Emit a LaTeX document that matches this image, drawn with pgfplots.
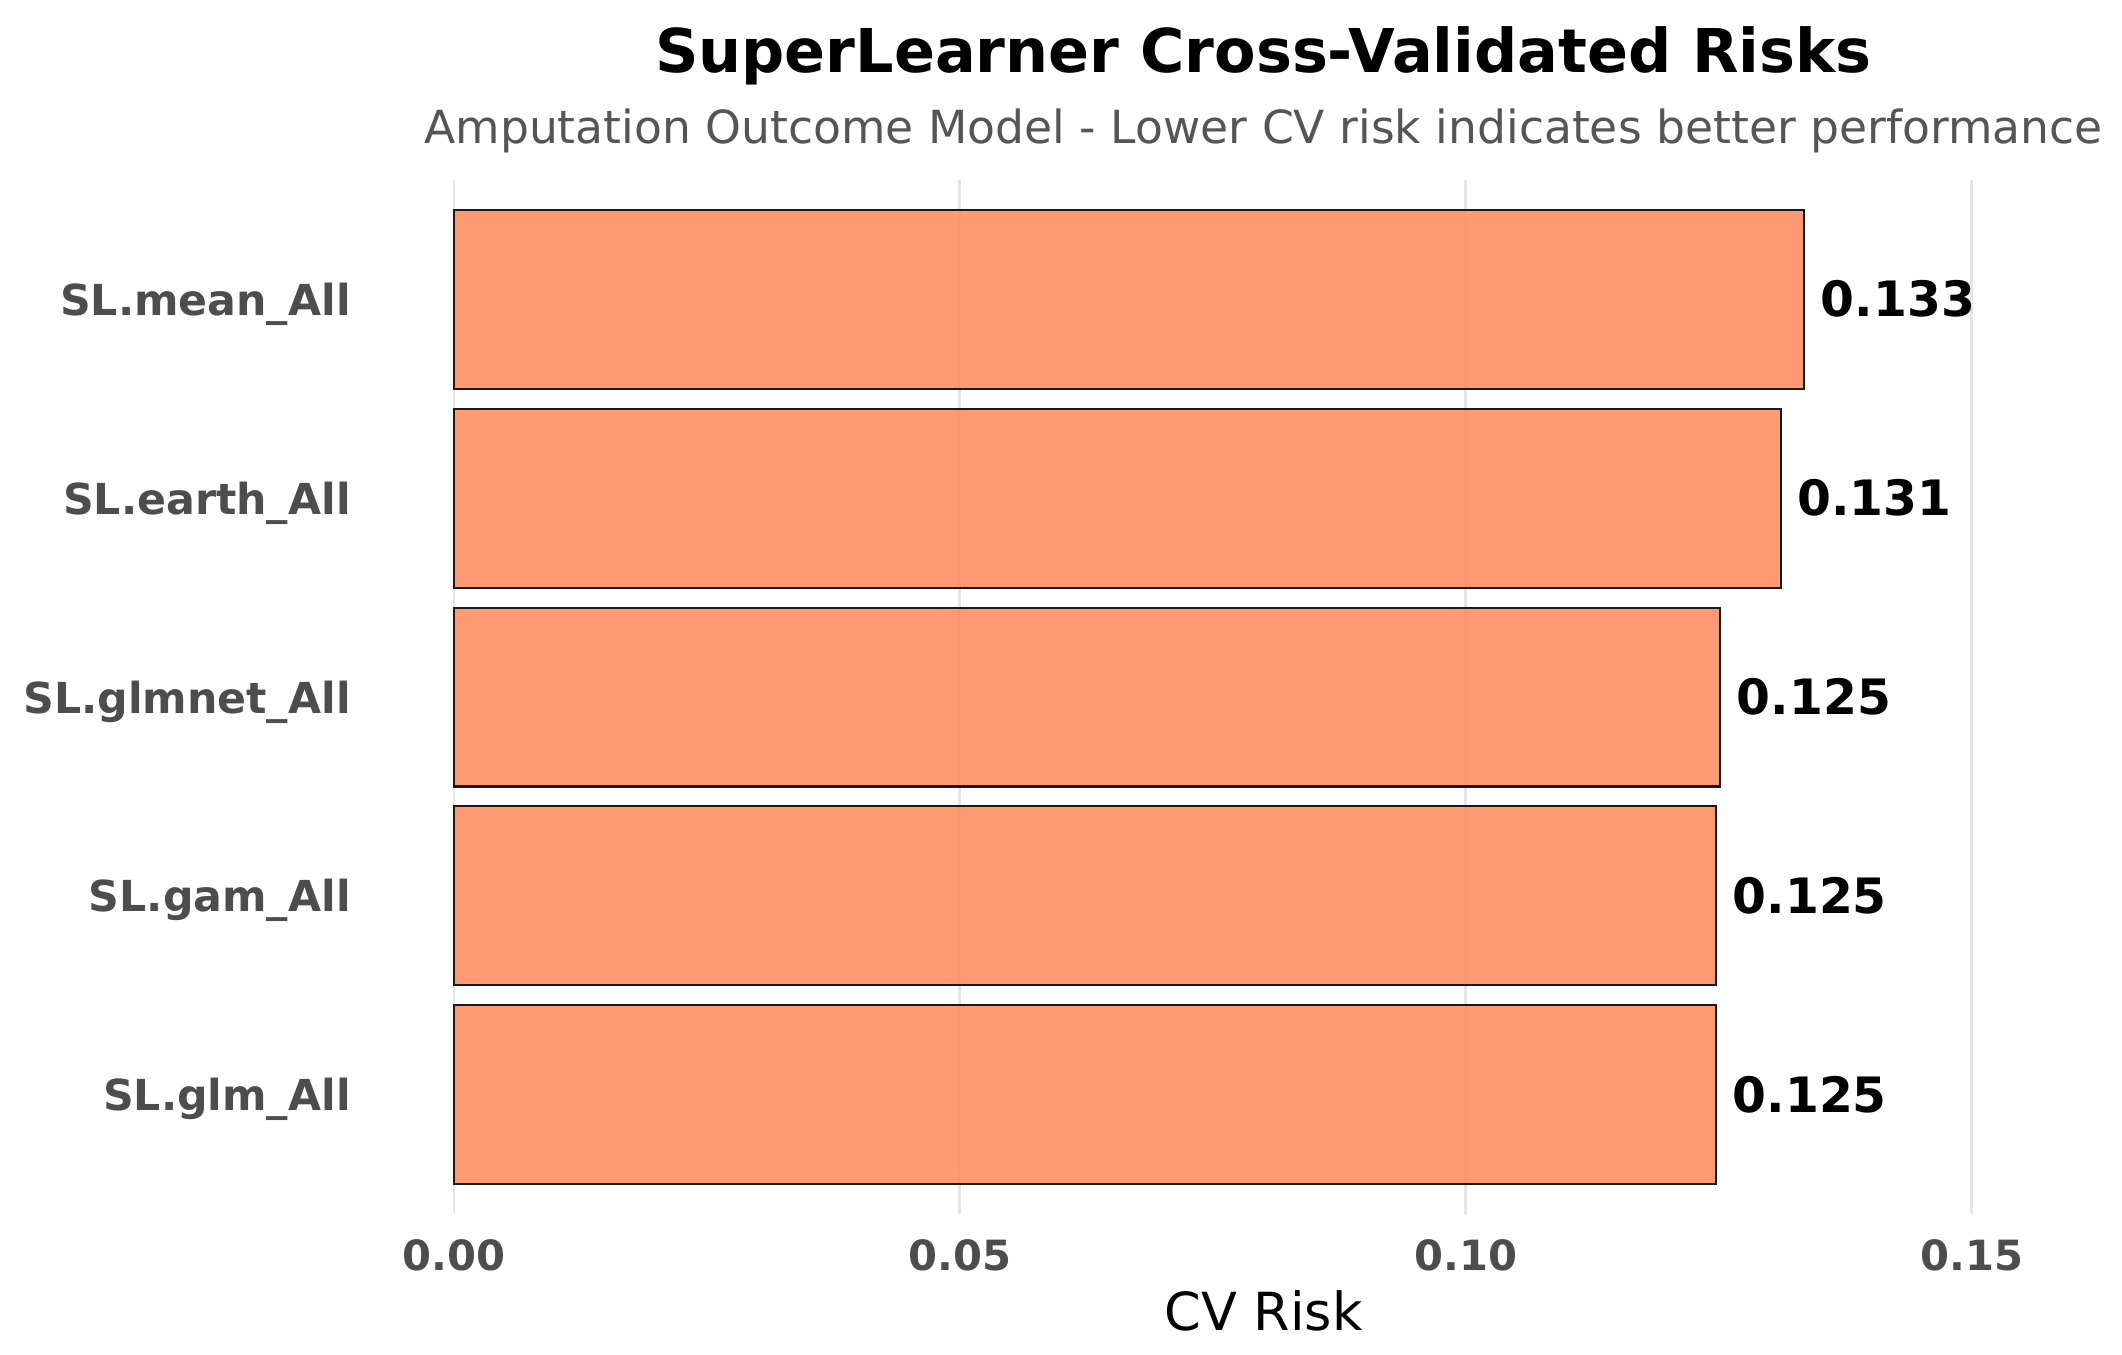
\documentclass[border=0pt]{standalone}
\usepackage{fontspec}
\setmainfont{DejaVu Sans}
\usepackage{pgfplots}
\usepackage{pgfplotstable}
\pgfplotsset{compat=1.18}
\definecolor{barc}{RGB}{255,143,100}
\definecolor{tickgray}{RGB}{77,77,77}
\definecolor{subgray}{RGB}{85,85,85}
\definecolor{gridc}{RGB}{230,230,230}

\pgfplotstableread{
y x lab
0 0.1247 0.125
1 0.1247 0.125
2 0.1251 0.125
3 0.1311 0.131
4 0.1334 0.133
}\risks

\begin{document}
\begin{tikzpicture}
\useasboundingbox (-108.96pt,-33.6pt) rectangle (400.32pt,291.36pt);
\begin{axis}[
  at={(0,0)}, anchor=south west,
  scale only axis, width=388.56pt, height=248.16pt,
  xbar, bar width=0.9,
  xmin=0, xmax=0.16, ymin=-0.6, ymax=4.6,
  xtick={0,0.05,0.10,0.15},
  xticklabels={0.00,0.05,0.10,0.15},
  ytick={0,1,2,3,4},
  yticklabels={SL.glm\_All, SL.gam\_All, SL.glmnet\_All, SL.earth\_All, SL.mean\_All},
  axis line style={draw=none},
  major tick length=0pt,
  tick style={draw=none},
  xmajorgrids,
  grid style={draw=gridc, line width=0.7pt},
  xticklabel style={font=\fontsize{10}{12}\selectfont\bfseries, text=tickgray, anchor=base, yshift=-13.44pt, inner sep=0pt},
  yticklabel style={font=\fontsize{10.25}{12}\selectfont\bfseries, text=tickgray, anchor=base east, xshift=-24.6pt, yshift=-3.84pt, inner sep=0pt},
  nodes near coords,
  point meta=explicit symbolic,
  every node near coord/.append style={font=\fontsize{11.7}{13}\selectfont\bfseries, text=black, text opacity=1, anchor=base west, xshift=3.8pt, yshift=-4.2pt, inner sep=0pt},
  clip=false,
]
\addplot[fill=barc, fill opacity=0.9, draw=black!90, line width=0.5pt] table[x=x, y=y, meta=lab] {\risks};
\node[anchor=base, inner sep=0pt, font=\fontsize{14.5}{17}\selectfont\bfseries] at (rel axis cs:0.5,1) [yshift=25.92pt] {SuperLearner Cross-Validated Risks};
\node[anchor=base, inner sep=0pt, font=\fontsize{10.95}{13}\selectfont, text=subgray] at (rel axis cs:0.5,1) [yshift=8.88pt] {Amputation Outcome Model - Lower CV risk indicates better performance};
\node[anchor=base, inner sep=0pt, font=\fontsize{12.6}{15}\selectfont] at (rel axis cs:0.5,0) [yshift=-27.84pt] {CV Risk};
\end{axis}
\end{tikzpicture}
\end{document}
